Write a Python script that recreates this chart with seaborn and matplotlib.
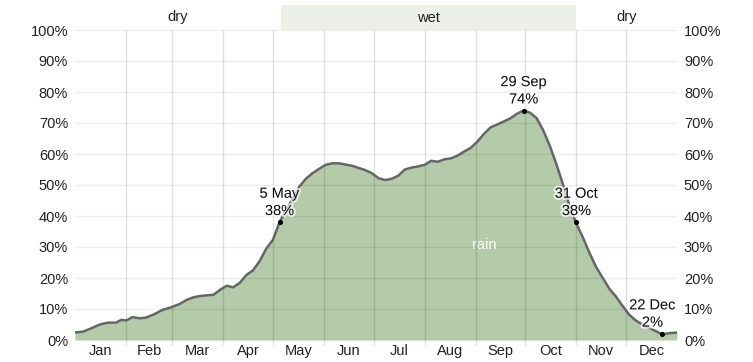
import numpy as np
import pandas as pd
import seaborn as sns
import matplotlib.pyplot as plt
import matplotlib.patheffects as pe
import matplotlib.transforms as mtransforms
from matplotlib.patches import Rectangle

# chance of a wet day (%), by day of year
days = [0, 5, 10, 15, 20, 25, 28, 31, 35, 39, 43, 48, 53, 58, 63, 68, 72, 76, 80, 84,
        88, 92, 96, 100, 104, 108, 112, 116, 120, 124, 128, 132, 136, 140, 144, 148,
        152, 156, 160, 164, 168, 172, 176, 180, 184, 188, 192, 196, 200, 204, 208, 212,
        216, 220, 224, 228, 232, 236, 240, 244, 248, 252, 256, 260, 264, 268, 272, 276,
        280, 284, 288, 292, 296, 300, 304, 308, 312, 316, 320, 324, 328, 332, 336, 340,
        344, 348, 352, 356, 360, 365]
rain = [2.4, 2.7, 3.8, 5.0, 5.6, 5.6, 6.5, 6.3, 7.4, 7.0, 7.2, 8.3, 9.7, 10.5, 11.5, 13.0,
        13.8, 14.2, 14.4, 14.6, 16.2, 17.5, 17.0, 18.5, 21.0, 22.5, 25.5, 29.5, 32.3, 38.0,
        42.0, 45.5, 49.5, 52.0, 53.8, 55.2, 56.5, 57.0, 57.0, 56.6, 56.2, 55.5, 54.8, 53.8,
        52.2, 51.6, 52.0, 53.0, 55.0, 55.6, 56.0, 56.5, 57.8, 57.5, 58.3, 58.6, 59.5, 60.8,
        62.0, 64.0, 66.5, 68.6, 69.5, 70.5, 71.5, 73.0, 74.0, 73.3, 71.5, 67.5, 62.5, 56.5,
        50.0, 43.0, 37.5, 33.0, 28.0, 23.5, 20.0, 16.5, 14.0, 11.0, 8.2, 6.3, 5.0, 4.0,
        2.9, 1.8, 2.2, 2.4]

months = ['Jan', 'Feb', 'Mar', 'Apr', 'May', 'Jun', 'Jul', 'Aug', 'Sep', 'Oct', 'Nov', 'Dec']
month_starts = [0, 31, 59, 90, 120, 151, 181, 212, 243, 273, 304, 334, 365]

season_labels = ['dry', 'wet', 'dry']
season_bounds = [0, 125, 304, 365]

peak_labels = ['5 May', '29 Sep', '31 Oct', '22 Dec']
peak_days = [124, 272, 304, 356]
peak_values = [38, 74, 38, 2]

sns.set_style('white')
plt.rcParams['font.family'] = ['Liberation Sans', 'DejaVu Sans']

fig = plt.figure(figsize=(7.53, 3.62), dpi=100)
ax = fig.add_axes([75 / 753, 22 / 362, 602 / 753, 310 / 362])

df = pd.DataFrame({'day': days, 'rain': rain})
ax.fill_between(df['day'], 0, df['rain'], color='#b4cba9', lw=0, zorder=1)
sns.lineplot(data=df, x='day', y='rain', color='#666666', lw=1.8, ax=ax, zorder=3)

# grid drawn over the fill, semi-transparent
for v in range(0, 101, 10):
    ax.axhline(v, color='black', alpha=0.07, lw=1, zorder=2)
ax.vlines(month_starts[1:-1], -1.5, 100, color='black', alpha=0.12, lw=1, zorder=2, clip_on=False)

ax.set_xlim(0, 365)
ax.set_ylim(0, 100)
mids = [(a + b) / 2 for a, b in zip(month_starts[:-1], month_starts[1:])]
ax.set_xticks(mids)
ax.set_xticklabels(months)
ax.set_yticks(range(0, 101, 10))
ax.set_yticklabels([f'{v}%' for v in range(0, 101, 10)])
ax.tick_params(axis='y', labelleft=True, labelright=True, length=0, pad=5, labelsize=10.5, colors='#222222')
ax.tick_params(axis='x', length=0, pad=3, labelsize=10.5, colors='#222222')
ax.set_xlabel('')
ax.set_ylabel('')
for s in ax.spines.values():
    s.set_visible(False)

# season band above the plot
trans = mtransforms.blended_transform_factory(ax.transData, ax.transAxes)
band_h = 25 / 310
ax.add_patch(Rectangle((season_bounds[1], 1.0), season_bounds[2] - season_bounds[1], band_h,
                       transform=trans, color='#ebf0e8', lw=0, clip_on=False))
for lab, a, b in zip(season_labels, season_bounds[:-1], season_bounds[1:]):
    ax.text((a + b) / 2, 1 + band_h / 2, lab, transform=trans, ha='center', va='center',
            fontsize=10.5, color='#222222')

# annotated points
halo = [pe.withStroke(linewidth=3, foreground='white', alpha=0.7)]
ax.scatter(peak_days, peak_values, s=7, color='black', zorder=5)
offsets = [0, 0, 0, -7]
for lab, d, v, dx in zip(peak_labels, peak_days, peak_values, offsets):
    ax.annotate(f'{lab}\n{v}%', (d, v), xytext=(dx, 3), textcoords='offset points',
                ha='center', va='bottom', fontsize=10.5, linespacing=1.3, color='#111111',
                path_effects=halo, zorder=6)

ax.text(248, 30.5, 'rain', color='white', ha='center', va='center', fontsize=10.5, zorder=6)

fig.savefig('out.png', dpi=100)
